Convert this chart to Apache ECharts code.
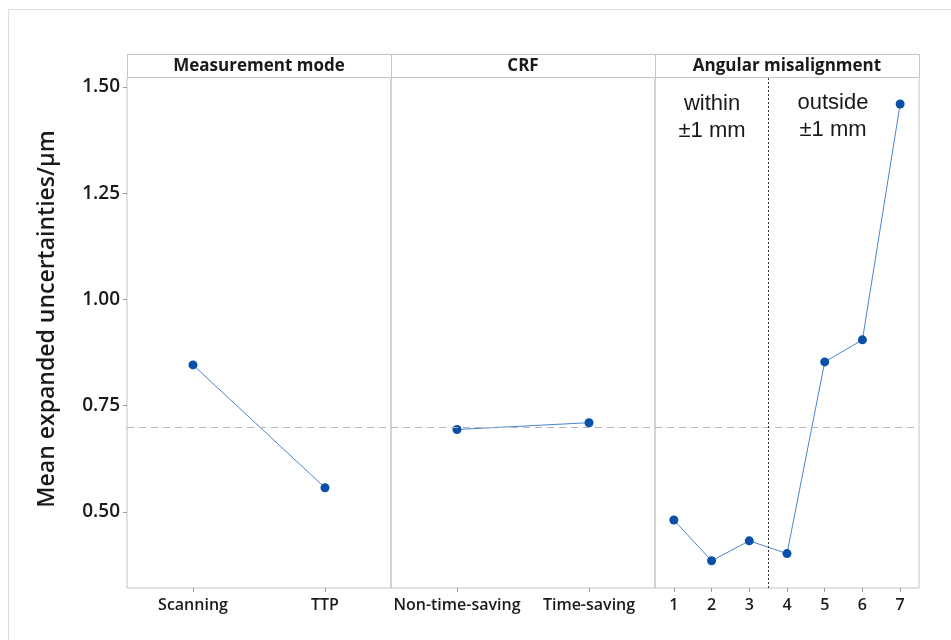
<!DOCTYPE html>
<html>
<head>
<meta charset="utf-8">
<script src="https://cdn.jsdelivr.net/npm/echarts@6/dist/echarts.min.js"></script>
<style>
html,body{margin:0;padding:0;background:#fff;}
#main{width:951px;height:640px;}
</style>
</head>
<body>
<div id="main"></div>
<script>
// ---- data ----
const panelTitles = ['Measurement mode', 'CRF', 'Angular misalignment'];
const modeCategories = ['Scanning', 'TTP'];
const modeValues = [0.846, 0.557];
const crfCategories = ['Non-time-saving', 'Time-saving'];
const crfValues = [0.694, 0.710];
const angleCategories = [1, 2, 3, 4, 5, 6, 7];
const angleValues = [0.481, 0.385, 0.432, 0.402, 0.853, 0.905, 1.460];
const yTicks = [0.50, 0.75, 1.00, 1.25, 1.50];
const meanValue = 0.705;
const angleSplit = 3.5;
const yAxisTitle = 'Mean expanded uncertainties/\u03bcm';
const withinText = 'within\n\u00b11 mm';
const outsideText = 'outside\n\u00b11 mm';

// ---- layout ----
const W = 951, H = 640;
const plotTop = 77, plotBottom = 588, headerTop = 54;
const edges = [127, 391, 655, 919];
const yMin = 0.321, yMax = 1.5235;
const gridColor = '#c4c4c4';
const textColor = '#1a1a1a';
const font = '"Open Sans", "Noto Sans", sans-serif';
const lineColor = '#4a86d0';
const pointColor = '#0a4fa8';

const grids = [0, 1, 2].map(i => ({
  left: edges[i], width: edges[i + 1] - edges[i],
  top: plotTop, height: plotBottom - plotTop,
  show: true, borderColor: gridColor, borderWidth: 1, backgroundColor: 'transparent'
}));

const tickStyle = { show: true, length: 4, inside: false, lineStyle: { color: '#9a9a9a' } };
const xLabelStyle = { color: textColor, fontFamily: font, fontSize: 16, fontWeight: 600, margin: 9, interval: 0, hideOverlap: false };

const xAxes = [
  { gridIndex: 0, type: 'category', data: modeCategories, boundaryGap: true,
    axisLine: { show: false }, axisTick: Object.assign({ alignWithLabel: true }, tickStyle),
    axisLabel: xLabelStyle, splitLine: { show: false } },
  { gridIndex: 1, type: 'category', data: crfCategories, boundaryGap: true,
    axisLine: { show: false }, axisTick: Object.assign({ alignWithLabel: true }, tickStyle),
    axisLabel: xLabelStyle, splitLine: { show: false } },
  { gridIndex: 2, type: 'value', min: 0.5, max: angleCategories.length + 0.5,
    axisLine: { show: false },
    axisTick: Object.assign({ customValues: angleCategories }, tickStyle),
    axisLabel: Object.assign({ customValues: angleCategories }, xLabelStyle),
    splitLine: { show: false } }
];

const yAxes = [0, 1, 2].map(i => ({
  gridIndex: i, type: 'value', min: yMin, max: yMax,
  show: i === 0,
  axisLine: { show: false },
  axisTick: Object.assign({ customValues: yTicks }, tickStyle),
  axisLabel: { customValues: yTicks, formatter: v => Number(v).toFixed(2),
    color: textColor, fontFamily: font, fontSize: 19, fontWeight: 600, margin: 7 },
  splitLine: { show: false }
}));

function meanLine(extra) {
  const data = [{ yAxis: meanValue, lineStyle: { color: '#b4b4b4', type: [7, 5], width: 1 } }];
  if (extra) data.push(extra);
  return { silent: true, symbol: 'none', label: { show: false }, animation: false, data: data };
}

const seriesBase = {
  type: 'line', symbol: 'circle', symbolSize: 9, animation: false,
  lineStyle: { color: lineColor, width: 1 },
  itemStyle: { color: pointColor }
};

const series = [
  Object.assign({}, seriesBase, { xAxisIndex: 0, yAxisIndex: 0, data: modeValues, markLine: meanLine() }),
  Object.assign({}, seriesBase, { xAxisIndex: 1, yAxisIndex: 1, data: crfValues, markLine: meanLine() }),
  Object.assign({}, seriesBase, { xAxisIndex: 2, yAxisIndex: 2,
    data: angleValues.map((v, i) => [angleCategories[i], v]),
    markLine: meanLine({ xAxis: angleSplit, lineStyle: { color: '#333', type: [2, 2], width: 1 } }) })
];

const graphics = [
  { type: 'rect', shape: { x: 8.5, y: 9.5, width: 960, height: 660 }, style: { fill: 'none', stroke: '#dcdcdc', lineWidth: 1 }, z: -1, silent: true },
  { type: 'text', x: 47, y: 319, rotation: Math.PI / 2,
    style: { text: yAxisTitle, fill: textColor, font: '600 23px ' + font, align: 'center', verticalAlign: 'middle' } }
];
for (let i = 0; i < 3; i++) {
  graphics.push({ type: 'rect', shape: { x: edges[i] + 0.5, y: headerTop + 0.5, width: edges[i + 1] - edges[i], height: plotTop - headerTop },
    style: { fill: '#fff', stroke: gridColor, lineWidth: 1 } });
  graphics.push({ type: 'text', x: (edges[i] + edges[i + 1]) / 2, y: (headerTop + plotTop) / 2 + 1,
    style: { text: panelTitles[i], fill: textColor, font: 'bold 17px ' + font, align: 'center', verticalAlign: 'middle' } });
}
const noteFont = '22px "Liberation Sans", Arial, sans-serif';
graphics.push({ type: 'text', x: 712, y: 117, style: { text: withinText, fill: textColor, font: noteFont, lineHeight: 27, align: 'center', verticalAlign: 'middle' } });
graphics.push({ type: 'text', x: 833, y: 116, style: { text: outsideText, fill: textColor, font: noteFont, lineHeight: 27, align: 'center', verticalAlign: 'middle' } });

const chart = echarts.init(document.getElementById('main'), null, { renderer: 'canvas', width: W, height: H });
chart.setOption({
  backgroundColor: '#fff',
  animation: false,
  grid: grids,
  xAxis: xAxes,
  yAxis: yAxes,
  series: series,
  graphic: graphics
});
</script>
</body>
</html>
